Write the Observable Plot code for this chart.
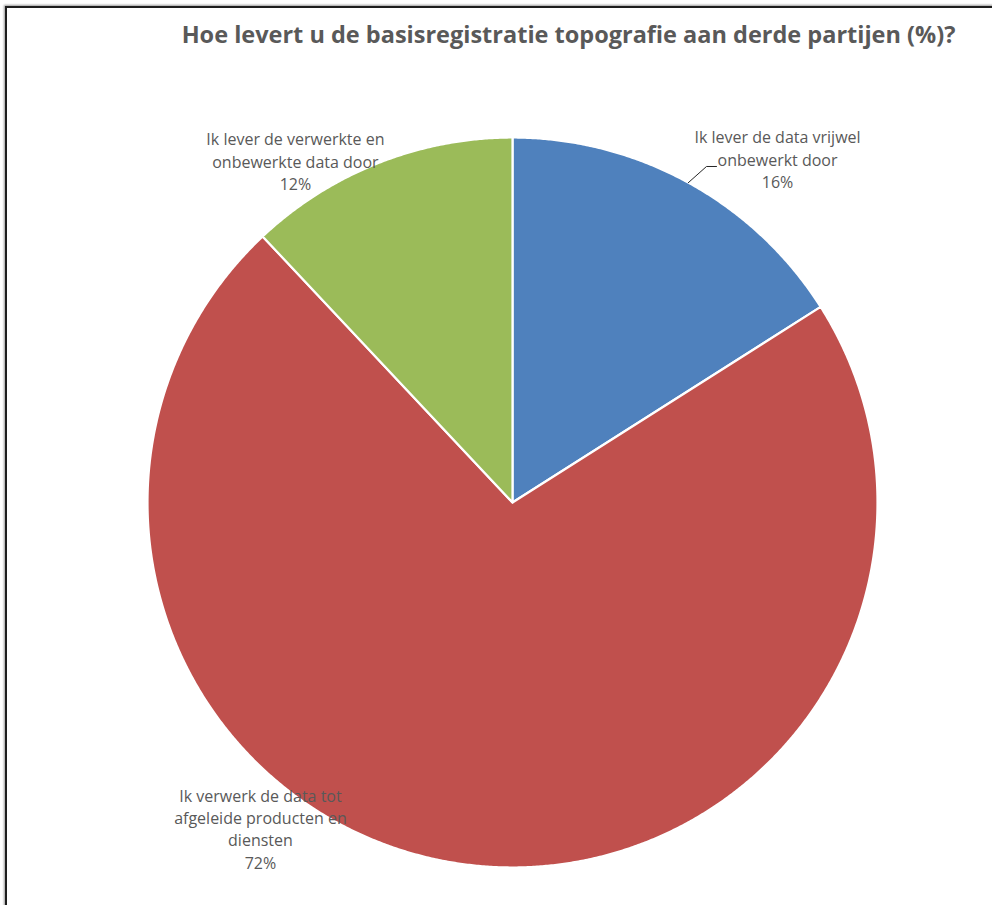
<!DOCTYPE html>
<html>
<head>
<meta charset="utf-8">
<script src="https://cdn.jsdelivr.net/npm/d3@7"></script>
<script src="https://cdn.jsdelivr.net/npm/@observablehq/plot@0.6"></script>
<style>
  html, body { margin: 0; padding: 0; background: #fff; }
  #page { position: relative; width: 992px; height: 905px; overflow: hidden; background: #fff; }
  #frame { position: absolute; left: 5px; top: 6px; width: 1000px; height: 910px;
           border-top: 2px solid #1e1e1e; border-left: 2px solid #1e1e1e;
           box-shadow: -1px -1px 2px #9a9a9a; pointer-events: none; }
  #title { position: absolute; left: 0; top: 18px; width: 1137px; text-align: center;
           font-family: "Open Sans", sans-serif; font-weight: bold; font-size: 23.5px;
           line-height: 32px; color: #595959; white-space: nowrap; }
  #chart { position: absolute; left: 0; top: 70px; }
</style>
</head>
<body>
<div id="page">
  <div id="title">Hoe levert u de basisregistratie topografie aan derde partijen (%)?</div>
  <div id="chart"></div>
  <div id="frame"></div>
</div>
<script>
// ---- data ----
const categories = [
  "Ik lever de data vrijwel onbewerkt door",
  "Ik verwerk de data tot afgeleide producten en diensten",
  "Ik lever de verwerkte en onbewerkte data door"
];
const labelLines = [
  "Ik lever de data vrijwel\nonbewerkt door",
  "Ik verwerk de data tot\nafgeleide producten en\ndiensten",
  "Ik lever de verwerkte en\nonbewerkte data door"
];
const values = [16, 72, 12];
const colors = ["#4F81BD", "#C0504D", "#9BBB59"];
// label placement (polar, angle in degrees clockwise from 12 o'clock, radius relative to pie radius)
const labelAngle = [37.6, 217.75, 327.6];
const labelRadius = [1.19, 1.128, 1.11];
const leaderFor = [true, false, false];

// ---- layout ----
const W = 992, H = 835;
const cx = 512, cy = 432, R = 365;

const pie = d3.pie().sort(null).value(d => d)(values);
const total = d3.sum(values);

const rad = a => a * Math.PI / 180;
const polar = (angleRad, r) => ({x: r * Math.sin(angleRad), y: r * Math.cos(angleRad)});

// slice polygons from pie angles
const slices = pie.map((p, i) => {
  const pts = [{x: 0, y: 0}];
  const n = Math.max(4, Math.ceil((p.endAngle - p.startAngle) / 0.005));
  for (let k = 0; k <= n; k++) {
    const a = p.startAngle + (p.endAngle - p.startAngle) * k / n;
    pts.push(polar(a, 1));
  }
  pts.push({x: 0, y: 0});
  return pts;
});

const labels = categories.map((c, i) => {
  const p = polar(rad(labelAngle[i]), labelRadius[i]);
  return {x: p.x, y: p.y, text: labelLines[i] + "\n" + Math.round(values[i] / total * 100) + "%"};
});

const leaders = [];
pie.forEach((p, i) => {
  if (!leaderFor[i]) return;
  const mid = (p.startAngle + p.endAngle) / 2;
  const a = polar(mid, 1.0);
  const b = polar(mid + rad(1.2), 1.063);
  const c = {x: b.x + 10 / R, y: b.y};
  leaders.push([a, b, c]);
});

const marks = [];
slices.forEach((pts, i) => {
  marks.push(Plot.line(pts, {x: "x", y: "y", fill: colors[i], stroke: "#fff", strokeWidth: 2.2, curve: "linear", strokeLinejoin: "round"}));
});
leaders.forEach(pts => {
  marks.push(Plot.line(pts, {x: "x", y: "y", stroke: "#262626", strokeWidth: 1, curve: "linear"}));
});
marks.push(Plot.text(labels, {
  x: "x", y: "y", text: "text", textAnchor: "middle", lineAnchor: "middle",
  lineHeight: 1.4, fontSize: 16, fill: "#595959"
}));

const chart = Plot.plot({
  width: W, height: H,
  margin: 0,
  style: {fontFamily: "'Open Sans', sans-serif", background: "transparent", overflow: "visible"},
  x: {domain: [-1, 1], range: [cx - R, cx + R], axis: null},
  y: {domain: [-1, 1], range: [cy + R, cy - R], axis: null},
  marks
});
document.getElementById("chart").appendChild(chart);
</script>
</body>
</html>
